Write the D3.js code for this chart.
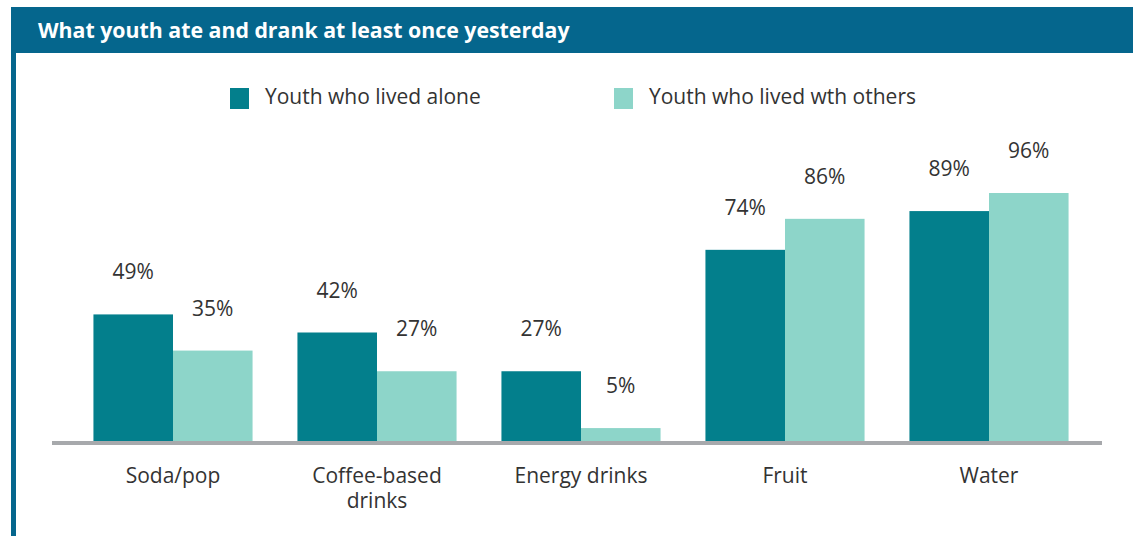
<!DOCTYPE html>
<html>
<head>
<meta charset="utf-8">
<script src="https://cdn.jsdelivr.net/npm/d3@7"></script>
<style>
  html, body { margin: 0; padding: 0; background: #fff; }
  svg { display: block; font-family: "Open Sans", "Noto Sans", sans-serif; }
</style>
</head>
<body>
<svg id="chart" width="1133" height="536"></svg>
<script>
// Share of youth who had each item at least once yesterday (%)
const categories = [["Soda/pop"], ["Coffee-based", "drinks"], ["Energy drinks"], ["Fruit"], ["Water"]];
const series = ["Youth who lived alone", "Youth who lived wth others"];
const livedAlone = [49, 42, 27, 74, 89];
const livedWithOthers = [35, 27, 5, 86, 96];
const title = "What youth ate and drank at least once yesterday";

const colors = ["#037f8c", "#8dd5c9"];
const headerColor = "#05668d";
const textColor = "#333333";
const fontSize = 21;

const svg = d3.select("#chart");
const W = 1133, H = 536;

// Header band and left rule
svg.append("rect").attr("x", 11).attr("y", 7).attr("width", W - 11).attr("height", 46).attr("fill", headerColor);
svg.append("rect").attr("x", 11).attr("y", 53).attr("width", 5).attr("height", H - 53).attr("fill", headerColor);
svg.append("text").attr("x", 38).attr("y", 38)
  .attr("fill", "#fff").attr("font-size", 21.3).attr("font-weight", 700)
  .text(title);

// Scales
const baseline = 441;
const x0 = d3.scaleBand().domain(d3.range(categories.length)).range([71, 1091]).paddingInner(0.22).paddingOuter(0.11);
const x1 = d3.scaleBand().domain(d3.range(series.length)).range([0, x0.bandwidth()]);
const y = d3.scaleLinear().domain([0, 96]).range([baseline, 193]);

const rows = categories.map((c, i) => ({ i, values: [livedAlone[i], livedWithOthers[i]] }));

const groups = svg.append("g").selectAll("g").data(rows).join("g")
  .attr("transform", d => `translate(${x0(d.i)},0)`);

groups.selectAll("rect").data(d => d.values.map((v, s) => ({ v, s }))).join("rect")
  .attr("x", d => x1(d.s))
  .attr("y", d => y(d.v))
  .attr("width", x1.bandwidth())
  .attr("height", d => baseline - y(d.v))
  .attr("fill", d => colors[d.s]);

groups.selectAll("text.val").data(d => d.values.map((v, s) => ({ v, s }))).join("text")
  .attr("class", "val")
  .attr("x", d => x1(d.s) + x1.bandwidth() / 2)
  .attr("y", d => y(d.v) - 35)
  .attr("text-anchor", "middle")
  .attr("font-size", fontSize)
  .attr("fill", textColor)
  .text(d => d.v + "%");

// Baseline axis
svg.append("rect").attr("x", 52).attr("y", baseline).attr("width", 1050).attr("height", 4).attr("fill", "#a7a9ac");

// Category labels, one text per line
const catLines = rows.flatMap(d => categories[d.i].map((line, k) => ({ i: d.i, k, line })));
svg.append("g").selectAll("text").data(catLines).join("text")
  .attr("x", d => x0(d.i) + x0.bandwidth() / 2)
  .attr("y", d => 483 + d.k * 25)
  .attr("text-anchor", "middle")
  .attr("font-size", fontSize)
  .attr("fill", textColor)
  .text(d => d.line);

// Legend
const legendX = [230, 614];
const legend = svg.append("g").selectAll("g").data(series).join("g")
  .attr("transform", (d, i) => `translate(${legendX[i]},88)`);
legend.append("rect").attr("width", 19).attr("height", 21).attr("fill", (d, i) => colors[i]);
legend.append("text").attr("x", 35).attr("y", 16)
  .attr("font-size", fontSize).attr("fill", textColor).text(d => d);
</script>
</body>
</html>
